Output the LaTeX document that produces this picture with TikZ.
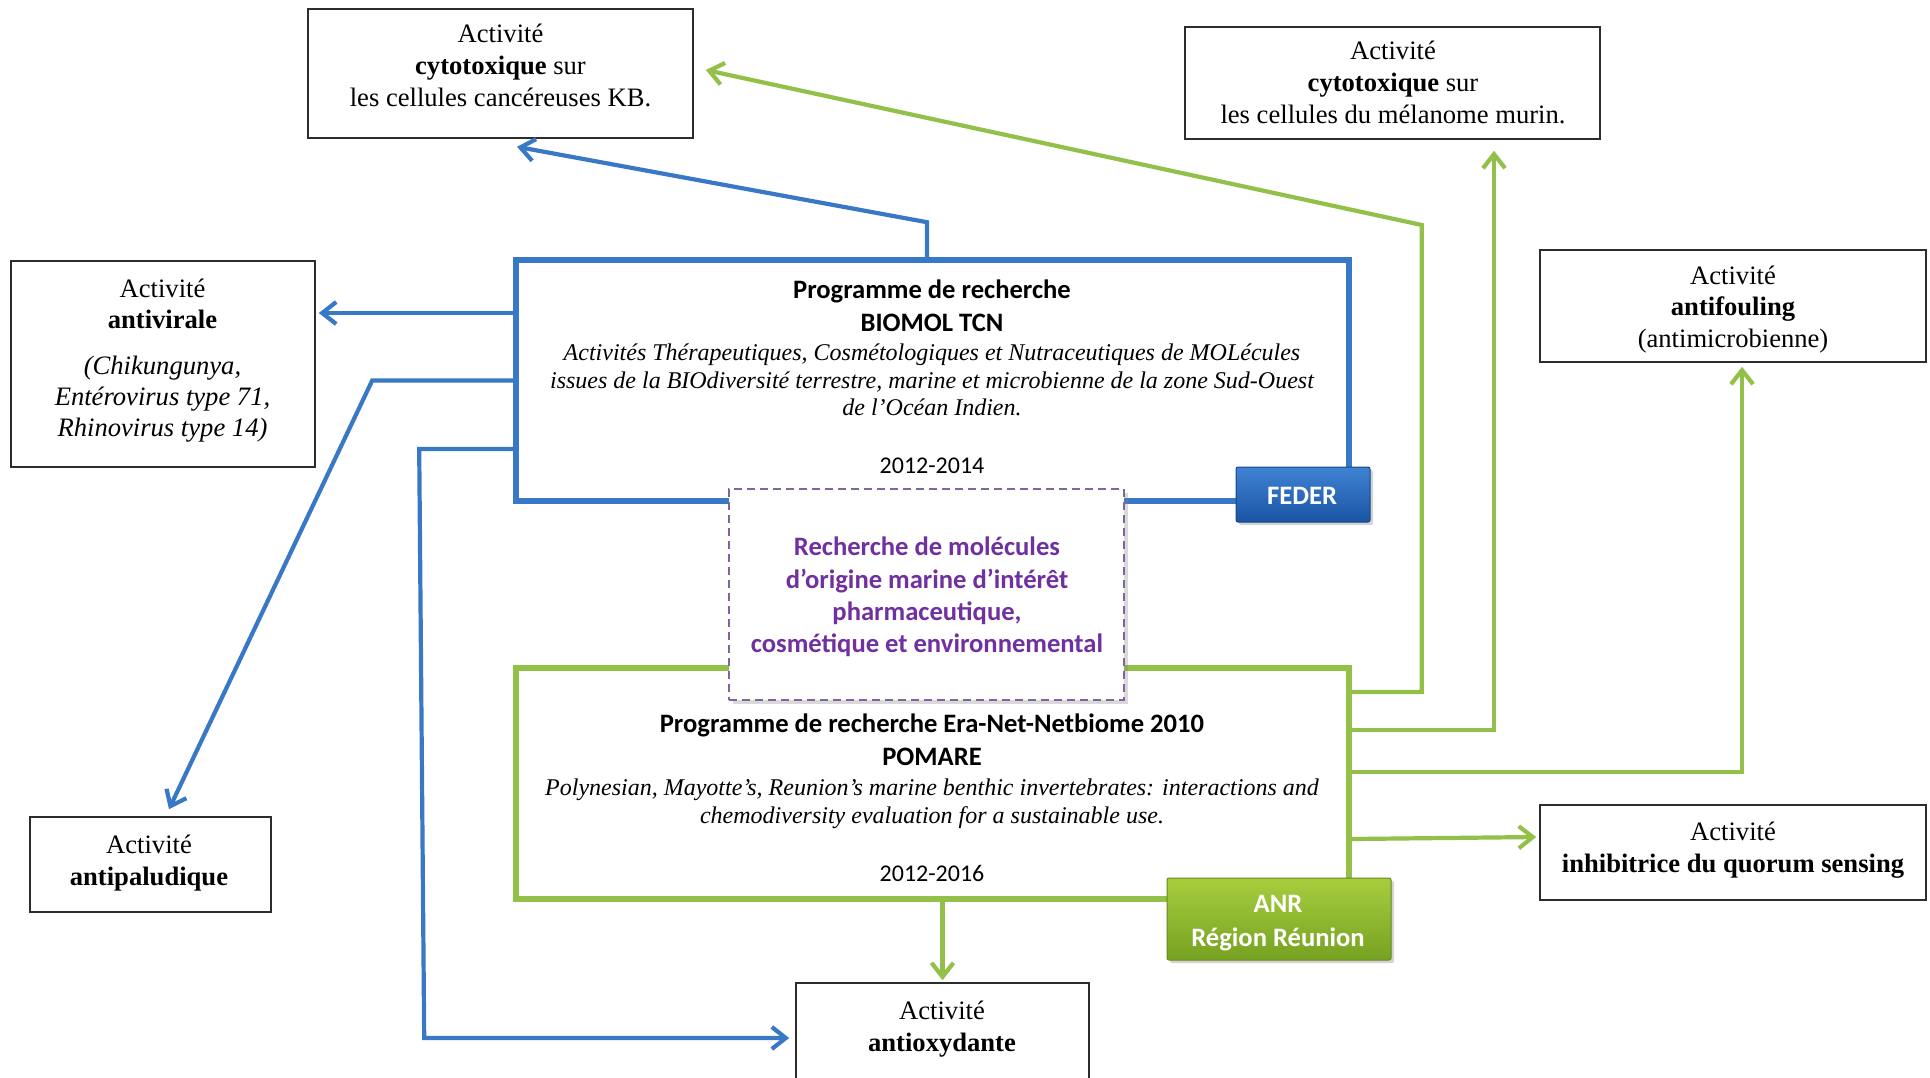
\documentclass[tikz,border=0pt]{standalone}
\usepackage{fontspec}
\setmainfont{Liberation Serif}
\newfontfamily\calibri{Carlito}
\usetikzlibrary{arrows.meta,shadows,calc}
\definecolor{cblue}{RGB}{56,120,196}
\definecolor{cgreen}{RGB}{146,192,72}
\definecolor{cpurple}{RGB}{112,48,160}
\definecolor{cdash}{RGB}{128,100,162}
\definecolor{boxgray}{RGB}{45,45,45}
\definecolor{fedtop}{RGB}{64,130,210}
\definecolor{fedbot}{RGB}{26,84,164}
\definecolor{anrtop}{RGB}{168,206,62}
\definecolor{anrbot}{RGB}{118,162,34}
\begin{document}
\begin{tikzpicture}[x=0.5pt,y=-0.5pt,
  actbox/.style={draw=boxgray,line width=0.8pt,fill=white,inner sep=0pt},
  progblue/.style={draw=cblue,line width=2.8pt,inner sep=0pt},
  proggreen/.style={draw=cgreen,line width=2.8pt,inner sep=0pt},
  bluearrow/.style={draw=cblue,line width=2.1pt,-{Straight Barb[length=7pt,width=11pt]}},
  greenarrow/.style={draw=cgreen,line width=2.1pt,-{Straight Barb[length=7pt,width=11pt]}},
  serif/.style={font=\fontsize{13.3}{15.8}\selectfont,align=center,inner sep=0pt,text=black},
  calb/.style={font=\calibri\bfseries\fontsize{13.3}{16.4}\selectfont,align=center,inner sep=0pt},
  italtxt/.style={font=\fontsize{12}{13.9}\selectfont\itshape,align=center,inner sep=0pt},
  yeartxt/.style={font=\calibri\fontsize{12}{14}\selectfont,align=center,inner sep=0pt},
  fundbox/.style={rounded corners=1pt,inner sep=0pt,
    drop shadow={shadow xshift=1.5pt,shadow yshift=-1.5pt,opacity=0.35}},
  purplebox/.style={draw=cdash,line width=0.9pt,dash pattern=on 4pt off 2.5pt,fill=white,inner sep=0pt,
    drop shadow={shadow xshift=2pt,shadow yshift=-2pt,opacity=0.3}}
]
\path[use as bounding box] (0,0) rectangle (1930,1077);
\clip (0,0) rectangle (1930,1077);

% activity boxes
\node[actbox,minimum width=192.5pt,minimum height=64.5pt] (kb) at (500.5,73.5) {};
\node[actbox,minimum width=207.5pt,minimum height=56pt] (mel) at (1392.5,83) {};
\node[actbox,minimum width=152pt,minimum height=103pt] (av) at (163,364) {};
\node[actbox,minimum width=193pt,minimum height=56pt] (af) at (1733,306) {};
\node[actbox,minimum width=120.5pt,minimum height=47.5pt] (ap) at (150.5,864.5) {};
\node[actbox,minimum width=193pt,minimum height=47.5pt] (qs) at (1733,852.5) {};
\node[actbox,minimum width=146.5pt,minimum height=58.5pt] (ao) at (942.5,1041.5) {};

% programme boxes
\node[progblue,minimum width=416.5pt,minimum height=120.5pt] (biomol) at (932.5,380.5) {};
\node[proggreen,minimum width=416.5pt,minimum height=115.5pt] (pomare) at (932.5,783.5) {};

% blue connectors
\draw[bluearrow] ($(biomol.north)+(-5.5,0)$) -- ++(0,-35) -- ($(kb.south)+(16.5,8)$);
\draw[bluearrow] ($(biomol.west)+(0,-67.5)$) -- ($(av.east)+(3,-51)$);
\draw[bluearrow] ($(biomol.west)+(0,0)$) -- ++(-141,0) -- ($(ap.north)+(18.5,-7)$);
\draw[bluearrow] ($(biomol.west)+(0,68.5)$) -- ++(-94,0) -- ++(5,589) -- ($(ao.west)+(-6,-3.5)$);

% green connectors
\draw[greenarrow] ($(pomare.east)+(0,-91.5)$) -- ++(70,0) -- ++(0,-467) -- ($(kb.east)+(12,-3.5)$);
\draw[greenarrow] ($(pomare.east)+(0,-53.5)$) -| ($(mel.south)+(101.5,11)$);
\draw[greenarrow] ($(pomare.east)+(0,-11.5)$) -| ($(af.south)+(9,4)$);
\draw[greenarrow] ($(pomare.east)+(0,55.5)$) -- ($(qs.west)+(-3,-15.5)$);
\draw[greenarrow] ($(pomare.south)+(10,0)$) -- ($(ao.north)+(0,-2)$);

% central purple box
\node[purplebox,minimum width=197.5pt,minimum height=105.5pt] (centre) at (926.5,594.5) {};

% funding boxes
\node[fundbox,top color=fedtop,bottom color=fedbot,draw=fedbot!85!black,line width=0.5pt,
  minimum width=67pt,minimum height=27.5pt] (feder) at (1303,494.5) {};
\node[fundbox,top color=anrtop,bottom color=anrbot,draw=anrbot!85!black,line width=0.5pt,
  minimum width=112pt,minimum height=41pt] (anr) at (1279,919) {};

% texts
\node[serif] (kbt) at (500.5,65.5) {Activité\\\textbf{cytotoxique} sur\\les cellules cancéreuses KB.};
\node[serif] (melt) at (1393,82.5) {Activité\\\textbf{cytotoxique} sur\\les cellules du mélanome murin.};
\node[serif,font=\fontsize{13.3}{15.5}\selectfont] (avt) at (162.5,361) {Activité\\\textbf{antivirale}\\[7.5pt]\textit{(Chikungunya,}\\\textit{Entérovirus type 71,}\\\textit{Rhinovirus type 14)}};
\node[serif] (aft) at (1733,309.5) {Activité\\\textbf{antifouling}\\(antimicrobienne)};
\node[serif] (apt) at (149,863) {Activité\\\textbf{antipaludique}};
\node[serif] (qst) at (1733,850) {Activité\\\textbf{inhibitrice du quorum sensing}};
\node[serif] (aot) at (942,1029) {Activité\\\textbf{antioxydante}};

\node[calb] (biot) at (932,305.5) {Programme de recherche\\BIOMOL TCN};
\node[italtxt] (bioi) at (932,380) {Activités Thérapeutiques, Cosmétologiques et Nutraceutiques de MOLécules\\issues de la BIOdiversité terrestre, marine et microbienne de la zone Sud-Ouest\\de l’Océan Indien.};
\node[yeartxt] (bioy) at (932,466) {2012-2014};

\node[calb] (pomt) at (932,740) {Programme de recherche Era-Net-Netbiome 2010\\POMARE};
\node[italtxt] (pomi) at (932,803.5) {Polynesian, Mayotte’s, Reunion’s marine benthic invertebrates: interactions and\\chemodiversity evaluation for a sustainable use.};
\node[yeartxt] (pomy) at (932,873) {2012-2016};

\node[calb,text=cpurple,font=\calibri\bfseries\fontsize{13.3}{16.2}\selectfont] (centret) at (927,597) {Recherche de molécules\\d’origine marine d’intérêt\\pharmaceutique,\\cosmétique et environnemental};

\node[calb,text=white] (federt) at (1302,496) {FEDER};
\node[calb,text=white,font=\calibri\bfseries\fontsize{13.3}{16.8}\selectfont] (anrt) at (1278,923) {ANR\\Région Réunion};
\end{tikzpicture}
\end{document}
